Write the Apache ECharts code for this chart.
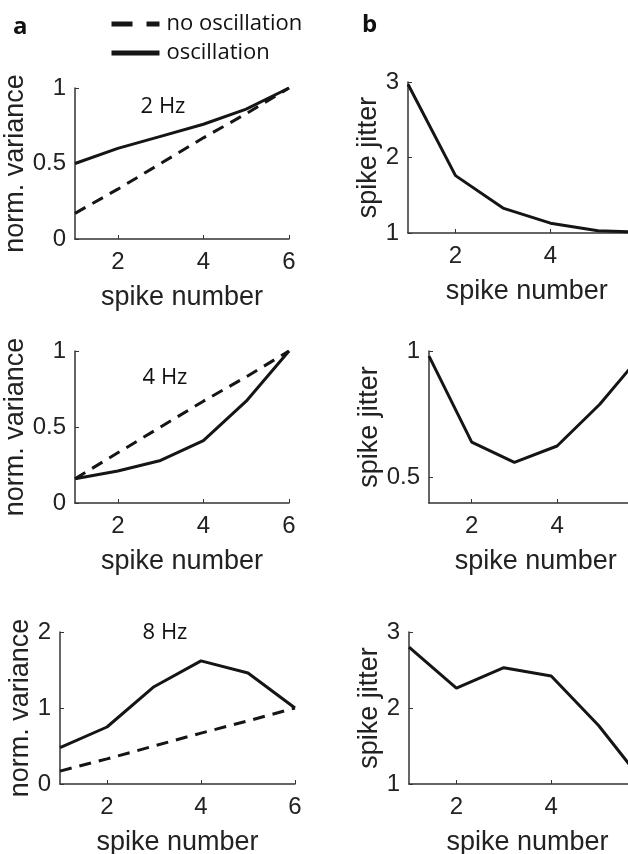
<!DOCTYPE html>
<html>
<head>
<meta charset="utf-8">
<script src="https://cdn.jsdelivr.net/npm/echarts@6/dist/echarts.min.js"></script>
<style>
  html, body { margin: 0; padding: 0; background: #fff; }
  #chart { width: 628px; height: 854px; }
</style>
</head>
<body>
<div id="chart"></div>
<script>
const spikes = [1, 2, 3, 4, 5, 6];

// column a: normalised variance
const var2HzNoOsc = [0.17, 0.33, 0.5, 0.67, 0.83, 1.0];
const var2HzOsc = [0.5, 0.6, 0.68, 0.76, 0.86, 1.0];
const var4HzNoOsc = [0.16, 0.33, 0.5, 0.67, 0.83, 1.0];
const var4HzOsc = [0.16, 0.21, 0.28, 0.41, 0.67, 1.0];
const var8HzNoOsc = [0.17, 0.33, 0.5, 0.67, 0.83, 1.0];
const var8HzOsc = [0.48, 0.75, 1.28, 1.62, 1.46, 1.0];

// column b: spike jitter
const jitter2Hz = [2.97, 1.76, 1.33, 1.13, 1.03, 1.01];
const jitter4Hz = [0.98, 0.64, 0.56, 0.625, 0.79, 0.99];
const jitter8Hz = [2.8, 2.26, 2.53, 2.42, 1.77, 0.98];

const freqLabels = ['2 Hz', '4 Hz', '8 Hz'];
const xTicks = [2, 4, 6];

const pairs = (ys) => spikes.map((x, i) => [x, ys[i]]);

const axisFont = 'Liberation Sans, Arial, sans-serif';
const lineColor = '#151515';

// right column runs past the page edge, like the cropped figure
const grids = [
    {left: 75, top: 88, width: 214, height: 151},
    {left: 75, top: 351, width: 214, height: 152},
    {left: 60, top: 632, width: 235, height: 152},
    {left: 408, top: 82, width: 237.5, height: 151},
    {left: 429, top: 351, width: 213.5, height: 152},
    {left: 409, top: 632, width: 237, height: 152}
].map(g => Object.assign({outerBoundsMode: 'none', containLabel: false}, g));

const makeX = (i) => ({
    type: 'value',
    gridIndex: i,
    min: 1,
    max: 6,
    name: 'spike number',
    nameLocation: 'middle',
    nameGap: 45,
    nameTextStyle: {fontFamily: axisFont, fontSize: 27, color: '#222'},
    axisLine: {lineStyle: {color: '#333', width: 1.5}},
    axisTick: {inside: true, length: 4, customValues: xTicks, lineStyle: {color: '#333'}},
    axisLabel: {customValues: xTicks, fontFamily: axisFont, fontSize: 24, color: '#222', margin: 11},
    splitLine: {show: false}
});

const makeY = (i, name, min, max, ticks, gap) => ({
    type: 'value',
    gridIndex: i,
    min: min,
    max: max,
    name: name,
    nameLocation: 'middle',
    nameGap: gap,
    nameTextStyle: {fontFamily: axisFont, fontSize: 27, color: '#222'},
    axisLine: {show: true, lineStyle: {color: '#333', width: 1.5}},
    axisTick: {show: true, inside: true, length: 4, customValues: ticks, lineStyle: {color: '#333'}},
    axisLabel: {
        customValues: ticks, fontFamily: axisFont, fontSize: 24, color: '#222', margin: 9,
        formatter: (v) => String(v)
    },
    splitLine: {show: false}
});

const lineSeries = (name, i, ys, dashed) => ({
    name: name,
    type: 'line',
    xAxisIndex: i,
    yAxisIndex: i,
    data: pairs(ys),
    symbol: 'none',
    silent: true,
    lineStyle: {color: lineColor, width: 3, type: dashed ? [12, 8] : 'solid'},
    itemStyle: {color: lineColor}
});

const chart = echarts.init(document.getElementById('chart'));
chart.setOption({
    animation: false,
    backgroundColor: '#fff',
    grid: grids,
    xAxis: [0, 1, 2, 3, 4, 5].map(makeX),
    yAxis: [
        makeY(0, 'norm. variance', 0, 1, [0, 0.5, 1], 42),
        makeY(1, 'norm. variance', 0, 1, [0, 0.5, 1], 42),
        makeY(2, 'norm. variance', 0, 2, [0, 1, 2], 20),
        makeY(3, 'spike jitter', 1, 3, [1, 2, 3], 21),
        makeY(4, 'spike jitter', 0.4, 1, [0.5, 1], 42),
        makeY(5, 'spike jitter', 1, 3, [1, 2, 3], 21)
    ],
    legend: {
        orient: 'vertical',
        left: 104,
        top: 8,
        itemWidth: 48,
        itemHeight: 14,
        itemGap: 7,
        data: [
            {name: 'no oscillation', lineStyle: {type: [21, 14]}},
            {name: 'oscillation'}
        ],
        itemStyle: {opacity: 0},
        lineStyle: {width: 5},
        textStyle: {fontFamily: 'Open Sans', fontSize: 22, color: '#111', padding: [3, 0, 0, 2]},
        selectedMode: false
    },
    graphic: [
        {type: 'text', left: 13, top: 15, style: {text: 'a', font: 'bold 24px "Open Sans"', fill: '#111'}},
        {type: 'text', left: 362, top: 13, style: {text: 'b', font: 'bold 24px "Open Sans"', fill: '#111'}},
        {type: 'text', x: 163, y: 107, style: {text: freqLabels[0], font: '22px "Open Sans"', fill: '#111', textAlign: 'center', textVerticalAlign: 'middle'}},
        {type: 'text', x: 165, y: 378, style: {text: freqLabels[1], font: '22px "Open Sans"', fill: '#111', textAlign: 'center', textVerticalAlign: 'middle'}},
        {type: 'text', x: 165, y: 633, style: {text: freqLabels[2], font: '22px "Open Sans"', fill: '#111', textAlign: 'center', textVerticalAlign: 'middle'}}
    ],
    series: [
        lineSeries('no oscillation', 0, var2HzNoOsc, true),
        lineSeries('oscillation', 0, var2HzOsc, false),
        lineSeries('no oscillation', 1, var4HzNoOsc, true),
        lineSeries('oscillation', 1, var4HzOsc, false),
        lineSeries('no oscillation', 2, var8HzNoOsc, true),
        lineSeries('oscillation', 2, var8HzOsc, false),
        lineSeries('jitter 2 Hz', 3, jitter2Hz, false),
        lineSeries('jitter 4 Hz', 4, jitter4Hz, false),
        lineSeries('jitter 8 Hz', 5, jitter8Hz, false)
    ]
});
</script>
</body>
</html>
